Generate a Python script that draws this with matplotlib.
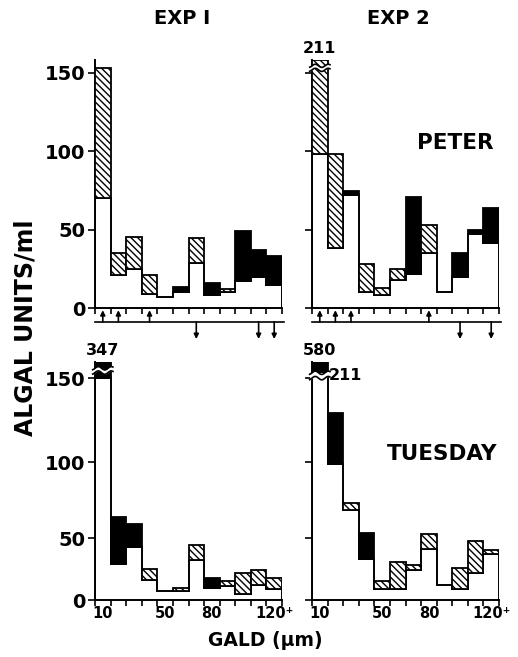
import numpy as np
import matplotlib
matplotlib.use("Agg")
import matplotlib.pyplot as plt
from matplotlib.patches import Rectangle

# ---------------- data ----------------
size_classes = ["10", "20", "30", "40", "50", "60", "70", "80", "90", "100", "110", "120+"]
labelled_bins = [0, 4, 7, 11]
labelled_text = ["10", "50", "80", "120\u207A"]
y_ticks = [0, 50, 100, 150]

# two counts per size class; hatched where series_a > series_b, black where series_b > series_a
peter1_a = [153, 35, 45, 21, 7, 10, 45, 8, 12.4, 17, 20, 15]
peter1_b = [70, 21, 25, 9, 7, 13.4, 29, 16, 10, 49, 37, 33]
peter2_a = [211, 98, 72, 28, 13, 25, 22, 53, 10.5, 20, 47.5, 41.5]
peter2_b = [98, 38, 75, 10.5, 8, 18, 71, 35, 10.5, 35, 49.7, 64]
tues1_a = [150, 29, 43, 25, 7, 10, 44, 9.5, 15.4, 21.6, 24.3, 17.6]
tues1_b = [347, 64, 59, 16, 7, 7, 32, 18, 11.6, 5, 12, 8.6]
tues2_a = [211, 99, 73, 33, 15.4, 31, 28.4, 52.6, 12.2, 25.7, 47.3, 40.5]
tues2_b = [580, 129, 68.5, 53, 8.6, 8.6, 23.8, 41, 12.2, 8.6, 21.6, 37]

peter1_up = [0, 1, 3]
peter1_down = [6, 10, 11]
peter2_up = [0, 1, 2, 7]
peter2_down = [9, 11]

# ---------------- layout ----------------
W, H = 518, 657
fig = plt.figure(figsize=(W / 100, H / 100), dpi=100)
BOLD = dict(fontweight="bold", family="DejaVu Sans")
plt.rcParams["hatch.linewidth"] = 1.0


def px_axes(left, right, top, bottom):
    return fig.add_axes([left / W, 1 - bottom / H, (right - left) / W, (bottom - top) / H])


# bottom panels use the (slightly uneven) printed y-scale
kv = [0, 50, 100, 150, 1000]
kp = [0, 62, 138, 222, 222 + 850 * 1.68]


def fwd(v):
    return np.interp(v, kv, kp)


def inv(p):
    return np.interp(p, kp, kv)


def draw_break(ax, x0, x1, yc, half):
    xs = np.linspace(x0 - 0.15, x1 + 0.15, 40)
    wave = 1.0 * np.sin((xs - x0) / (x1 - x0) * 2 * np.pi * 1.2)
    ax.fill_between(xs, yc - half + wave, yc + half + wave, color="white", zorder=6, clip_on=False, lw=0)
    ax.plot(xs, yc - half + wave, color="k", lw=1.2, zorder=7, clip_on=False)
    ax.plot(xs, yc + half + wave, color="k", lw=1.2, zorder=7, clip_on=False)


def draw_panel(ax, a, b, top, show_x):
    a = np.asarray(a, float)
    b = np.asarray(b, float)
    lo = np.minimum(a, b)
    hi = np.maximum(a, b)
    n = len(a)
    edges = np.arange(n + 1)
    lo_d = np.minimum(lo, top - 6)
    hi_d = np.minimum(hi, top)
    ax.stairs(lo_d, edges, baseline=0, color="k", lw=1.4, zorder=4)
    for i in range(n):
        if hi_d[i] - lo_d[i] < 0.05:
            continue
        hatched = a[i] > b[i]
        r = Rectangle((i, lo_d[i]), 1, hi_d[i] - lo_d[i],
                      facecolor="white" if hatched else "black",
                      edgecolor="k", lw=1.3, hatch="\\\\\\\\\\" if hatched else None, zorder=5)
        ax.add_patch(r)
        if hi[i] > top:
            if lo[i] > top - 6:
                draw_break(ax, i, i + 1, lo_d[i] - 2, 1.6)
            else:
                draw_break(ax, i, i + 1, hi_d[i] - 5, 1.3)
            ax.annotate(f"{hi[i]:.0f}", xy=(i + 0.5, hi_d[i]), xytext=(0, 3),
                        textcoords="offset points", ha="center", va="bottom",
                        fontsize=11.5, zorder=8, **BOLD)
            if lo[i] > top - 6:
                ax.annotate(f"{lo[i]:.0f}", xy=(i + 1, lo_d[i] - 2), xytext=(1, 0),
                            textcoords="offset points", ha="left", va="center",
                            fontsize=11.5, zorder=8, **BOLD)
    ax.set_xlim(0, n)
    ax.set_ylim(0, top)
    for s in ["top", "right"]:
        ax.spines[s].set_visible(False)
    for s in ["left", "bottom"]:
        ax.spines[s].set_linewidth(1.4)
    ax.set_xticks(edges)
    ax.set_xticklabels([])
    ax.tick_params(axis="x", which="major", direction="out", length=4, width=1.2)
    if show_x:
        ax.set_xticks(np.array(labelled_bins) + 0.5, minor=True)
        ax.set_xticklabels(labelled_text, minor=True, fontsize=10.5, **BOLD)
        ax.tick_params(axis="x", which="minor", length=0, pad=4)
    ax.set_yticks(y_ticks)
    ax.tick_params(axis="y", direction="out", length=5, width=1.2, pad=2)
    ax.set_facecolor("none")


def arrow_strip(left, right, ups, downs):
    sa = px_axes(left, right, 305, 342)
    sa.set_xlim(0, 12)
    sa.set_ylim(0, 1)
    sa.axis("off")
    yl = (342 - 322) / 37
    sa.plot([0, 12.1], [yl, yl], color="k", lw=1.2, clip_on=False)
    for i in ups:
        sa.annotate("", xy=(i + 0.5, 0.86), xytext=(i + 0.5, yl),
                    arrowprops=dict(arrowstyle="-|>", lw=1.2, color="k", mutation_scale=7,
                                    shrinkA=0, shrinkB=0))
    for i in downs:
        sa.annotate("", xy=(i + 0.5, 0.08), xytext=(i + 0.5, yl),
                    arrowprops=dict(arrowstyle="-|>", lw=1.2, color="k", mutation_scale=7,
                                    shrinkA=0, shrinkB=0))


top_lim = (308 - 60) / ((308 - 73) / 150)

ax1 = px_axes(95, 282, 60, 308)
draw_panel(ax1, peter1_a, peter1_b, top_lim, False)
ax1.set_yticklabels([str(t) for t in y_ticks], fontsize=14, **BOLD)

ax2 = px_axes(312, 499, 60, 308)
draw_panel(ax2, peter2_a, peter2_b, top_lim, False)
ax2.set_yticklabels([])

bot_top = inv(238)
ax3 = px_axes(95, 282, 362, 600)
ax3.set_yscale("function", functions=(fwd, inv))
draw_panel(ax3, tues1_a, tues1_b, bot_top, True)
ax3.set_yticks(y_ticks)
ax3.set_yticklabels([str(t) for t in y_ticks], fontsize=14, **BOLD)
ax3.yaxis.set_minor_locator(matplotlib.ticker.NullLocator())

ax4 = px_axes(312, 499, 362, 600)
ax4.set_yscale("function", functions=(fwd, inv))
draw_panel(ax4, tues2_a, tues2_b, bot_top, True)
ax4.set_yticks(y_ticks)
ax4.set_yticklabels([])
ax4.yaxis.set_minor_locator(matplotlib.ticker.NullLocator())

arrow_strip(95, 282, peter1_up, peter1_down)
arrow_strip(312, 499, peter2_up, peter2_down)

fig.text(182 / W, 1 - 18 / H, "EXP I", ha="center", va="center", fontsize=14, **BOLD)
fig.text(398 / W, 1 - 18 / H, "EXP 2", ha="center", va="center", fontsize=14, **BOLD)
fig.text(455 / W, 1 - 143 / H, "PETER", ha="center", va="center", fontsize=15.5, **BOLD)
fig.text(442 / W, 1 - 454 / H, "TUESDAY", ha="center", va="center", fontsize=15.5, **BOLD)
fig.text(26 / W, 1 - 328 / H, "ALGAL UNITS/ml", ha="center", va="center", rotation=90,
         fontsize=17, **BOLD)
fig.text(265 / W, 1 - 640 / H, "GALD (\u03bcm)", ha="center", va="center", fontsize=13.5, **BOLD)

fig.savefig("out.png", dpi=100, facecolor="white")
